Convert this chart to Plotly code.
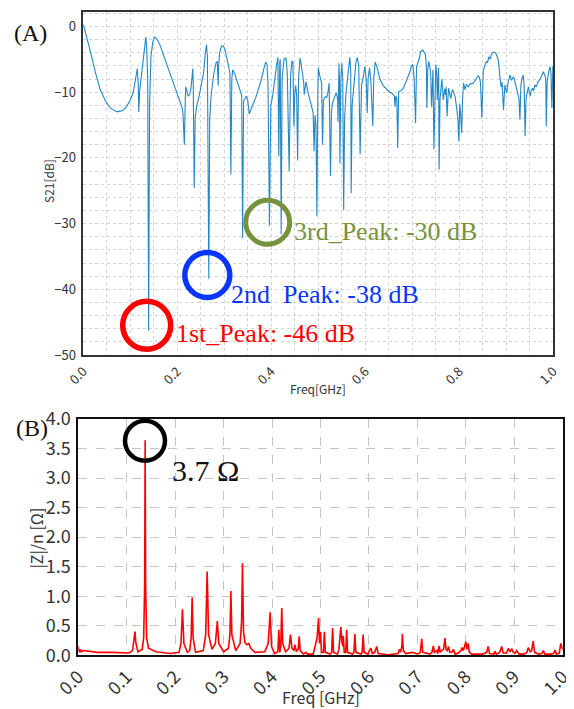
import plotly.graph_objects as go

# ---------------- (A) S21 transmission ----------------
freq_a = [
    0.000, 0.005, 0.014, 0.025, 0.036, 0.047, 0.057, 0.072, 0.084, 0.092,
    0.100, 0.106, 0.112, 0.115, 0.117, 0.118, 0.120, 0.124, 0.128, 0.131,
    0.133, 0.135, 0.137, 0.139, 0.141, 0.144, 0.148, 0.152, 0.156, 0.163,
    0.170, 0.177, 0.184, 0.191, 0.199, 0.206, 0.210, 0.212, 0.215, 0.217,
    0.218, 0.220, 0.223, 0.226, 0.229, 0.231, 0.233, 0.234, 0.236, 0.238,
    0.241, 0.247, 0.252, 0.256, 0.259, 0.262, 0.264, 0.267, 0.269, 0.272,
    0.277, 0.282, 0.285, 0.286, 0.287, 0.288, 0.290, 0.294, 0.298, 0.301,
    0.305, 0.309, 0.312, 0.314, 0.316, 0.318, 0.322, 0.326, 0.330, 0.334,
    0.337, 0.339, 0.341, 0.344, 0.347, 0.350, 0.353, 0.357, 0.362, 0.367,
    0.372, 0.378, 0.383, 0.388, 0.391, 0.393, 0.396, 0.399, 0.403, 0.407,
    0.411, 0.414, 0.416, 0.418, 0.419, 0.421, 0.423, 0.427, 0.431, 0.434,
    0.438, 0.441, 0.444, 0.446, 0.448, 0.450, 0.452, 0.454, 0.456, 0.458,
    0.461, 0.463, 0.467, 0.469, 0.470, 0.472, 0.474, 0.478, 0.482, 0.486,
    0.489, 0.491, 0.493, 0.495, 0.497, 0.499, 0.500, 0.503, 0.505, 0.507,
    0.509, 0.511, 0.515, 0.518, 0.521, 0.523, 0.526, 0.528, 0.530, 0.535,
    0.538, 0.541, 0.542, 0.544, 0.545, 0.546, 0.548, 0.550, 0.552, 0.554,
    0.556, 0.559, 0.563, 0.567, 0.569, 0.570, 0.572, 0.576, 0.580, 0.583,
    0.586, 0.589, 0.591, 0.592, 0.596, 0.599, 0.602, 0.604, 0.606, 0.609,
    0.612, 0.616, 0.618, 0.621, 0.626, 0.631, 0.638, 0.646, 0.652, 0.656,
    0.660, 0.662, 0.663, 0.665, 0.667, 0.669, 0.671, 0.676, 0.681, 0.686,
    0.691, 0.695, 0.698, 0.701, 0.704, 0.707, 0.709, 0.712, 0.715, 0.718,
    0.722, 0.725, 0.728, 0.730, 0.731, 0.733, 0.735, 0.737, 0.739, 0.741,
    0.743, 0.744, 0.746, 0.748, 0.750, 0.752, 0.753, 0.755, 0.756, 0.757,
    0.759, 0.761, 0.763, 0.766, 0.769, 0.771, 0.772, 0.774, 0.777, 0.779,
    0.782, 0.784, 0.786, 0.789, 0.791, 0.794, 0.797, 0.799, 0.801, 0.803,
    0.805, 0.807, 0.809, 0.812, 0.815, 0.819, 0.822, 0.826, 0.830, 0.835,
    0.840, 0.843, 0.845, 0.848, 0.850, 0.851, 0.854, 0.858, 0.860, 0.863,
    0.866, 0.868, 0.871, 0.875, 0.878, 0.881, 0.883, 0.886, 0.889, 0.891,
    0.894, 0.897, 0.899, 0.901, 0.904, 0.908, 0.911, 0.915, 0.917, 0.920,
    0.925, 0.927, 0.929, 0.931, 0.933, 0.936, 0.938, 0.940, 0.942, 0.943,
    0.947, 0.949, 0.951, 0.953, 0.956, 0.958, 0.961, 0.964, 0.967, 0.972,
    0.976, 0.979, 0.982, 0.984, 0.985, 0.987, 0.989, 0.993, 0.995, 0.997,
    0.999, 1.000,
]
s21_db = [
    0.3, -1.0, -3.5, -6.8, -9.6, -11.3, -12.4, -13.0, -12.8, -12.2,
    -11.2, -10.1, -8.0, -6.4, -9.0, -13.0, -9.8, -7.0, -4.6, -2.5,
    -1.6, -3.5, -8.0, -46.3, -12.0, -4.5, -2.3, -1.6, -1.8, -2.8,
    -4.2, -5.6, -7.1, -8.6, -10.0, -11.4, -12.3, -13.2, -18.0, -11.0,
    -9.2, -9.6, -10.6, -10.4, -9.5, -8.0, -6.4, -9.0, -24.6, -14.0,
    -12.2, -10.4, -8.8, -7.0, -4.5, -2.8, -4.5, -38.4, -14.0, -10.5,
    -7.5, -5.6, -5.3, -7.0, -9.0, -6.0, -4.0, -3.0, -3.0, -3.4,
    -4.5, -6.0, -7.2, -22.5, -8.0, -6.6, -7.2, -8.0, -9.0, -9.6,
    -10.5, -32.2, -11.4, -11.0, -10.6, -11.3, -13.3, -12.6, -11.8, -10.8,
    -9.6, -8.3, -6.8, -5.4, -5.8, -9.0, -30.3, -12.0, -10.5, -8.0,
    -6.0, -4.7, -19.8, -5.5, -5.0, -31.6, -8.0, -5.0, -4.8, -7.0,
    -22.0, -7.5, -5.2, -5.5, -15.2, -10.0, -9.0, -10.5, -20.4, -8.0,
    -4.8, -5.5, -7.4, -8.5, -10.4, -9.0, -8.4, -10.0, -11.2, -12.2,
    -13.1, -19.0, -13.5, -15.0, -28.9, -10.0, -6.3, -7.5, -8.4, -8.6,
    -18.0, -11.2, -10.7, -10.8, -9.8, -8.6, -22.8, -13.0, -11.7, -10.6,
    -10.1, -11.0, -14.5, -5.6, -8.0, -20.8, -8.0, -5.6, -8.0, -27.9,
    -14.0, -10.1, -7.0, -4.7, -6.5, -25.4, -12.0, -8.4, -5.5, -4.7,
    -6.0, -19.5, -10.0, -9.0, -7.6, -6.1, -8.0, -13.2, -8.0, -6.3,
    -8.5, -15.2, -8.0, -5.4, -6.5, -8.0, -9.0, -9.6, -10.0, -10.1,
    -10.4, -10.6, -12.2, -10.6, -10.9, -18.5, -9.9, -9.8, -9.4, -8.5,
    -7.6, -6.9, -6.0, -5.8, -8.0, -14.7, -6.1, -5.5, -4.8, -3.8,
    -3.6, -3.9, -4.3, -6.0, -12.4, -6.5, -5.3, -6.0, -7.1, -12.2,
    -7.0, -6.6, -18.7, -8.0, -5.8, -7.0, -11.2, -8.0, -6.3, -21.8,
    -11.0, -9.5, -8.0, -11.2, -9.5, -10.4, -9.2, -13.7, -9.4, -10.0,
    -11.0, -10.0, -9.6, -10.3, -10.6, -12.2, -14.0, -17.5, -11.8, -13.5,
    -16.2, -11.0, -8.6, -9.6, -8.8, -9.2, -8.8, -8.7, -8.6, -8.1,
    -7.5, -7.8, -8.5, -13.9, -8.5, -6.8, -6.0, -5.3, -5.5, -4.6,
    -5.0, -4.3, -4.0, -3.9, -4.1, -4.6, -5.1, -7.4, -9.2, -8.5,
    -12.7, -8.9, -9.5, -10.1, -8.4, -7.4, -8.2, -7.7, -8.0, -8.9,
    -10.4, -11.0, -14.2, -9.0, -8.0, -7.4, -9.0, -16.7, -11.0, -10.6,
    -9.2, -10.0, -10.6, -9.8, -9.4, -9.8, -8.9, -9.2, -8.5, -8.0,
    -7.5, -6.9, -7.4, -8.0, -15.2, -8.5, -7.4, -6.1, -7.0, -12.4,
    -6.1, -6.5,
]

# ---------------- (B) impedance ----------------
freq_b = [
    0.000, 0.002, 0.004, 0.006, 0.010, 0.020, 0.040, 0.070, 0.095, 0.105,
    0.112, 0.115, 0.117, 0.119, 0.123, 0.132, 0.135, 0.137, 0.138, 0.139,
    0.141, 0.145, 0.160, 0.190, 0.208, 0.212, 0.215, 0.218, 0.225, 0.230,
    0.233, 0.235, 0.237, 0.242, 0.258, 0.263, 0.266, 0.269, 0.276, 0.283,
    0.287, 0.290, 0.300, 0.310, 0.313, 0.315, 0.317, 0.325, 0.334, 0.337,
    0.339, 0.341, 0.344, 0.348, 0.352, 0.356, 0.365, 0.385, 0.392, 0.396,
    0.399, 0.405, 0.412, 0.414, 0.416, 0.418, 0.420, 0.422, 0.428, 0.435,
    0.438, 0.441, 0.445, 0.447, 0.450, 0.454, 0.456, 0.458, 0.465, 0.470,
    0.473, 0.485, 0.490, 0.493, 0.496, 0.498, 0.500, 0.502, 0.506, 0.508,
    0.510, 0.520, 0.523, 0.525, 0.527, 0.535, 0.538, 0.540, 0.542, 0.544,
    0.546, 0.547, 0.549, 0.552, 0.554, 0.556, 0.566, 0.569, 0.571, 0.573,
    0.584, 0.586, 0.588, 0.590, 0.598, 0.601, 0.604, 0.607, 0.612, 0.616,
    0.619, 0.640, 0.650, 0.660, 0.663, 0.665, 0.668, 0.669, 0.671, 0.676,
    0.690, 0.700, 0.706, 0.709, 0.711, 0.720, 0.726, 0.730, 0.733, 0.735,
    0.740, 0.742, 0.745, 0.747, 0.750, 0.754, 0.757, 0.759, 0.762, 0.764,
    0.767, 0.772, 0.774, 0.778, 0.785, 0.790, 0.792, 0.795, 0.798, 0.800,
    0.802, 0.805, 0.807, 0.812, 0.820, 0.835, 0.843, 0.846, 0.849, 0.858,
    0.860, 0.863, 0.870, 0.874, 0.877, 0.884, 0.888, 0.891, 0.895, 0.898,
    0.902, 0.905, 0.910, 0.920, 0.926, 0.929, 0.933, 0.936, 0.939, 0.942,
    0.950, 0.957, 0.960, 0.963, 0.975, 0.981, 0.984, 0.987, 0.993, 0.996,
    0.998, 1.000,
]
z_over_n = [
    0.15, 0.05, 0.10, 0.06, 0.08, 0.07, 0.05, 0.05, 0.04, 0.04,
    0.08, 0.25, 0.40, 0.20, 0.06, 0.10, 0.30, 1.20, 3.64, 1.20,
    0.30, 0.12, 0.06, 0.03, 0.05, 0.20, 0.78, 0.20, 0.05, 0.08,
    0.30, 0.98, 0.30, 0.05, 0.08, 0.35, 1.42, 0.35, 0.10, 0.20,
    0.58, 0.20, 0.06, 0.12, 0.35, 1.09, 0.35, 0.08, 0.20, 0.55,
    1.56, 0.40, 0.22, 0.18, 0.20, 0.12, 0.05, 0.06, 0.20, 0.73,
    0.15, 0.03, 0.06, 0.43, 0.05, 0.15, 0.80, 0.20, 0.06, 0.12,
    0.35, 0.12, 0.08, 0.18, 0.07, 0.10, 0.32, 0.08, 0.02, 0.05,
    0.02, 0.02, 0.18, 0.30, 0.63, 0.20, 0.40, 0.05, 0.05, 0.40,
    0.05, 0.02, 0.05, 0.46, 0.05, 0.02, 0.10, 0.30, 0.48, 0.25,
    0.15, 0.33, 0.05, 0.05, 0.43, 0.05, 0.02, 0.05, 0.36, 0.05,
    0.02, 0.05, 0.35, 0.05, 0.02, 0.08, 0.12, 0.03, 0.05, 0.15,
    0.03, 0.01, 0.02, 0.03, 0.10, 0.05, 0.15, 0.36, 0.08, 0.03,
    0.05, 0.02, 0.05, 0.28, 0.05, 0.03, 0.02, 0.05, 0.16, 0.05,
    0.08, 0.03, 0.16, 0.05, 0.08, 0.10, 0.29, 0.10, 0.08, 0.15,
    0.05, 0.06, 0.10, 0.02, 0.04, 0.08, 0.13, 0.08, 0.18, 0.23,
    0.10, 0.20, 0.06, 0.02, 0.02, 0.02, 0.05, 0.15, 0.03, 0.02,
    0.07, 0.02, 0.05, 0.15, 0.04, 0.04, 0.12, 0.06, 0.11, 0.05,
    0.04, 0.08, 0.02, 0.02, 0.05, 0.13, 0.06, 0.08, 0.24, 0.05,
    0.02, 0.03, 0.08, 0.02, 0.02, 0.03, 0.09, 0.02, 0.04, 0.20,
    0.15, 0.10,
]

x_ticks_a = [0.0, 0.2, 0.4, 0.6, 0.8, 1.0]
y_ticks_a = [-50, -40, -30, -20, -10, 0]
x_ticks_b = [0.0, 0.1, 0.2, 0.3, 0.4, 0.5, 0.6, 0.7, 0.8, 0.9, 1.0]
y_ticks_b = [0.0, 0.5, 1.0, 1.5, 2.0, 2.5, 3.0, 3.5, 4.0]

# the page body keeps its default 8 px margin; the figure is sized so that it
# reaches exactly the right and bottom edges of the 574x709 window
PAGE_W, PAGE_H, OFF = 574, 709, 8
W, H = PAGE_W - OFF, PAGE_H - OFF
def px(x):
    return (x - OFF) / W
def py(y):
    return 1 - (y - OFF) / H

TICKFONT = "Noto Sans CJK JP, Noto Sans, sans-serif"
SERIF = "Liberation Serif, Times New Roman, serif"

fig = go.Figure()
fig.add_trace(go.Scatter(x=freq_a, y=s21_db, mode="lines",
                         line=dict(color="#2387c6", width=1.1),
                         xaxis="x", yaxis="y", showlegend=False))
fig.add_trace(go.Scatter(x=freq_b, y=z_over_n, mode="lines",
                         line=dict(color="#ff0000", width=1.6),
                         xaxis="x2", yaxis="y2", showlegend=False))

grid_a = dict(showgrid=True, gridcolor="#d4d4d4", griddash="dot", gridwidth=1)
fig.update_layout(
    width=W, height=H,
    margin=dict(l=0, r=0, t=0, b=0, autoexpand=False),
    paper_bgcolor="white", plot_bgcolor="white",
    showlegend=False,
    xaxis=dict(domain=[px(83.3), px(553.3)], anchor="y", range=[0, 1],
               automargin=False, ticklabeloverflow="allow",
               tickvals=x_ticks_a, tickformat=".1f", tickangle=-45,
               tickfont=dict(family=TICKFONT, size=13, color="#333"),
               showline=True, linecolor="#333", linewidth=1.5, mirror=True,
               zeroline=False, ticks="", ticklabelstandoff=2,
               minor=dict(dtick=0.05, showgrid=True, gridcolor="#d4d4d4", griddash="dot"),
               **grid_a),
    yaxis=dict(domain=[py(355), py(12)], anchor="x", range=[-50, 2.2],
               automargin=False,
               tickvals=y_ticks_a,
               tickfont=dict(family=TICKFONT, size=13, color="#333"),
               showline=True, linecolor="#333", linewidth=1.5, mirror=True,
               zeroline=False, ticks="", ticklabelstandoff=3,
               minor=dict(dtick=2, showgrid=True, gridcolor="#d4d4d4", griddash="dot"),
               **grid_a),
    xaxis2=dict(domain=[px(78.3), px(562.7)], anchor="y2", range=[0, 1],
                automargin=False, ticklabeloverflow="allow",
                tickvals=x_ticks_b, tickformat=".1f", tickangle=-45,
                tickfont=dict(family=TICKFONT, size=18, color="#333"),
                showline=True, linecolor="#111", linewidth=2, mirror=True,
                zeroline=False, ticks="", ticklabelstandoff=2,
                showgrid=True, gridcolor="#c4c4c4", griddash="dash", gridwidth=1),
    yaxis2=dict(domain=[py(655.3), py(419)], anchor="x2", range=[0, 4],
                automargin=False,
                tickvals=y_ticks_b, tickformat=".1f",
                tickfont=dict(family=TICKFONT, size=18, color="#333"),
                showline=True, linecolor="#111", linewidth=2, mirror=True,
                zeroline=False, ticks="", ticklabelstandoff=2,
                showgrid=True, gridcolor="#c4c4c4", griddash="dash", gridwidth=1),
)

def circle(cx, cy, r, color, width):
    return dict(type="circle", xref="paper", yref="paper",
                xsizemode="pixel", ysizemode="pixel",
                xanchor=px(cx), yanchor=py(cy),
                x0=-r, x1=r, y0=-r, y1=r,
                line=dict(color=color, width=width), layer="above")

RED, BLUE, OLIVE = "#ff0000", "#0a35ff", "#76923c"
fig.update_layout(shapes=[
    circle(146.7, 325.3, 24, RED, 5.5),
    circle(207.3, 275.0, 22.5, BLUE, 5.5),
    circle(267.7, 222.3, 22, OLIVE, 5),
    circle(145.0, 440.7, 20, "#000000", 4.5),
])

def label(text, x, y, color, size, family=SERIF, anchor="left", angle=0):
    return dict(text=text, xref="paper", yref="paper", x=px(x), y=py(y),
                xanchor=anchor, yanchor="middle", showarrow=False,
                textangle=angle,
                font=dict(family=family, size=size, color=color))

fig.update_layout(annotations=[
    label("1st_Peak: -46 dB", 174, 333, RED, 26),
    label("2nd\u00a0 Peak: -38 dB", 229, 294, BLUE, 26),
    label("3rd_Peak: -30 dB", 292, 231, OLIVE, 26),
    label("3.7 Ω", 170, 470, "#111", 30),
    label("(A)", 12, 33, "#111", 24),
    label("(B)", 14, 428, "#111", 24),
    # axis titles
    label("Freq[GHz]", 318.3, 388, "#333", 12, TICKFONT, "center"),
    label("S21[dB]", 49, 181, "#333", 12, TICKFONT, "center", -90),
    label("Freq [GHz]", 321, 697, "#333", 16, TICKFONT, "center"),
    label("|Z|/n [Ω]", 35.5, 538, "#333", 16, TICKFONT, "center", -90),
])

fig.write_html("out.html")
